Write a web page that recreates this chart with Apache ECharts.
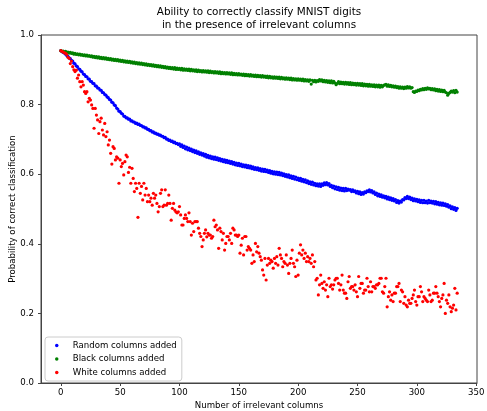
<!DOCTYPE html>
<html>
<head>
<meta charset="utf-8">
<script src="https://cdn.jsdelivr.net/npm/echarts@6/dist/echarts.min.js"></script>
<style>
  html, body { margin: 0; padding: 0; background: #fff; }
  #chart { width: 487px; height: 411px; }
</style>
</head>
<body>
<div id="chart"></div>
<script>
// accuracy per number of added columns (x = 0, 1, 2 ...), in thousandths
const randomAcc = [
  955, 952, 950, 948, 945, 941, 939, 934, 932, 927,
  925, 919, 917, 911, 909, 903, 901, 896, 894, 888,
  886, 881, 880, 874, 873, 867, 866, 861, 860, 854,
  853, 848, 847, 842, 841, 835, 834, 829, 827, 822,
  820, 815, 813, 807, 805, 799, 797, 790, 787, 781,
  780, 775, 773, 767, 766, 762, 762, 758, 758, 753,
  753, 750, 750, 746, 747, 743, 744, 740, 740, 736,
  736, 733, 733, 729, 729, 725, 725, 721, 722, 718,
  718, 715, 715, 712, 712, 709, 709, 705, 706, 701,
  701, 697, 698, 694, 695, 691, 692, 688, 689, 685,
  687, 680, 684, 677, 681, 673, 678, 670, 675, 668,
  672, 665, 669, 662, 667, 660, 664, 657, 661, 655,
  659, 652, 657, 649, 654, 647, 652, 645, 650, 643,
  649, 642, 647, 640, 645, 638, 643, 636, 641, 634,
  640, 633, 638, 631, 636, 629, 634, 627, 632, 625,
  631, 624, 629, 622, 627, 621, 626, 619, 625, 618,
  623, 616, 621, 614, 619, 613, 618, 611, 616, 609,
  615, 608, 614, 607, 612, 605, 610, 603, 608, 601,
  607, 600, 606, 599, 605, 598, 603, 596, 601, 594,
  599, 592, 598, 590, 595, 588, 594, 586, 592, 584,
  589, 582, 588, 580, 585, 578, 584, 576, 581, 573,
  578, 571, 577, 569, 574, 567, 572, 566, 572, 565,
  572, 568, 575, 570, 576, 569, 573, 565, 568, 561,
  566, 558, 564, 556, 562, 554, 560, 553, 559, 552,
  559, 553, 557, 554, 556, 550, 555, 550, 552, 546,
  551, 544, 549, 542, 547, 543, 549, 547, 552, 550,
  555, 549, 553, 546, 549, 542, 546, 538, 543, 536,
  541, 534, 538, 532, 536, 529, 534, 527, 532, 525,
  530, 523, 527, 519, 524, 517, 523, 520, 527, 526,
  533, 530, 536, 530, 534, 527, 531, 524, 529, 523,
  528, 521, 526, 519, 525, 518, 525, 518, 523, 517,
  525, 518, 523, 517, 522, 515, 521, 514, 519, 512,
  518, 511, 517, 510, 515, 508, 513, 505, 509, 501,
  506, 499, 504, 496, 502
];

const blackAcc = [
  955, 953, 954, 951, 953, 950, 951, 948, 950, 947,
  949, 945, 947, 944, 946, 943, 945, 942, 944, 941,
  943, 940, 942, 939, 941, 938, 940, 936, 939, 935,
  938, 934, 937, 933, 936, 932, 935, 931, 934, 930,
  933, 929, 932, 928, 931, 927, 930, 926, 929, 925,
  928, 924, 927, 923, 926, 922, 925, 921, 924, 920,
  923, 919, 922, 918, 921, 917, 920, 916, 919, 915,
  918, 914, 917, 913, 916, 912, 915, 911, 914, 910,
  913, 909, 912, 908, 911, 907, 910, 906, 909, 905,
  908, 904, 907, 903, 906, 902, 906, 901, 905, 901,
  904, 900, 904, 899, 903, 899, 902, 898, 902, 897,
  901, 897, 900, 896, 900, 895, 899, 895, 898, 894,
  898, 894, 897, 893, 897, 892, 896, 892, 895, 891,
  895, 891, 894, 890, 894, 889, 893, 889, 892, 888,
  892, 888, 891, 887, 891, 886, 890, 886, 889, 885,
  889, 885, 888, 884, 888, 883, 887, 883, 886, 882,
  886, 882, 885, 881, 885, 880, 884, 880, 883, 879,
  883, 879, 882, 878, 882, 877, 881, 877, 880, 876,
  880, 876, 879, 875, 879, 874, 878, 874, 877, 873,
  877, 873, 876, 872, 876, 871, 875, 871, 874, 870,
  874, 870, 873, 869, 873, 868, 872, 868, 871, 867,
  871, 859, 870, 866, 870, 865, 869, 867, 872, 868,
  871, 866, 870, 865, 869, 864, 868, 863, 868, 862,
  867, 862, 857, 861, 866, 860, 865, 860, 864, 859,
  864, 859, 863, 858, 863, 857, 862, 857, 861, 856,
  861, 856, 860, 855, 860, 854, 859, 854, 858, 853,
  858, 853, 857, 852, 857, 851, 856, 851, 856, 850,
  855, 851, 855, 857, 858, 853, 857, 852, 855, 851,
  854, 850, 853, 849, 852, 847, 851, 847, 850, 846,
  850, 847, 852, 848, 851, 847, 849, 837, 835, 839,
  838, 842, 840, 844, 842, 846, 843, 847, 844, 848,
  845, 847, 843, 846, 842, 845, 840, 844, 839, 843,
  838, 842, 837, 841, 836, 834, 827, 832, 835, 839,
  836, 840, 834, 841, 836
];

const whiteAcc = [
  955, 953, 951, 949, 947, 944, 936, 933, 918, 925,
  909, 900, 895, 899, 876, 885, 866, 851, 866, 856,
  837, 832, 837, 808, 818, 813, 799, 789, 732, 789,
  770, 756, 717, 751, 761, 727, 713, 746, 708, 722,
  684, 698, 660, 629, 679, 674, 641, 650, 646, 574,
  641, 622, 631, 598, 636, 655, 650, 605, 620, 574,
  617, 588, 550, 574, 559, 476, 574, 545, 565, 526,
  574, 540, 559, 521, 540, 521, 531, 511, 545, 531,
  540, 516, 492, 507, 545, 555, 507, 511, 555, 511,
  516, 540, 516, 468, 502, 516, 497, 492, 489, 492,
  507, 483, 454, 454, 473, 483, 473, 464, 489, 464,
  425, 459, 435, 464, 464, 464, 445, 430, 421, 392,
  411, 430, 440, 420, 430, 425, 425, 416, 421, 468,
  449, 454, 440, 387, 445, 435, 411, 430, 382, 401,
  421, 421, 411, 430, 401, 445, 440, 425, 425, 421,
  425, 373, 396, 416, 368, 421, 421, 382, 392, 387,
  382, 344, 368, 349, 401, 377, 392, 373, 363, 353,
  325, 310, 358, 296, 339, 358, 344, 353, 349, 330,
  358, 344, 363, 339, 387, 368, 358, 334, 349, 344,
  368, 339, 315, 344, 358, 382, 344, 334, 306, 353,
  310, 373, 397, 368, 382, 358, 373, 349, 363, 349,
  358, 344, 368, 334, 349, 296, 301, 253, 282, 310,
  286, 272, 291, 267, 282, 248, 301, 277, 282, 270,
  282, 296, 301, 301, 286, 267, 282, 310, 267, 258,
  258, 243, 291, 306, 272, 277, 277, 267, 282, 262,
  248, 306, 272, 286, 286, 258, 267, 267, 301, 277,
  262, 291, 262, 277, 277, 272, 282, 282, 286, 301,
  301, 262, 258, 277, 301, 219, 248, 262, 238, 253,
  234, 258, 258, 277, 277, 286, 234, 267, 262, 229,
  248, 224, 219, 238, 229, 229, 243, 253, 267, 234,
  224, 248, 248, 277, 262, 234, 248, 243, 238, 234,
  267, 253, 234, 238, 258, 258, 277, 258, 248, 234,
  219, 243, 253, 286, 200, 238, 229, 253, 219, 205,
  215, 224, 272, 210, 258
];

const seriesNames = ['Random columns added', 'Black columns added', 'White columns added'];
const seriesColors = ['#0000ff', '#008000', '#ff0000'];
const xTicks = [0, 50, 100, 150, 200, 250, 300, 350];

const font = 'DejaVu Sans';
const toPoints = arr => arr.map((v, i) => [i, v / 1000]);

const chart = echarts.init(document.getElementById('chart'));
chart.setOption({
  animation: false,
  textStyle: {fontFamily: font},
  graphic: [{
    type: 'text',
    x: 259,
    y: 6.5,
    style: {
      text: 'Ability to correctly classify MNIST digits\nin the presence of irrelevant columns',
      textAlign: 'center',
      textVerticalAlign: 'top',
      font: '10.4px "DejaVu Sans"',
      lineHeight: 12.5,
      fill: '#000',
    },
  }],
  grid: {
    left: 41,
    right: 10,
    top: 35,
    bottom: 28,
    containLabel: false,
    outerBoundsMode: 'none',
    show: true,
    borderColor: '#444',
    borderWidth: 1,
  },
  legend: {
    orient: 'vertical',
    left: 45,
    top: 337,
    data: seriesNames,
    icon: 'circle',
    itemWidth: 22,
    itemHeight: 3.5,
    itemGap: 4.5,
    padding: [4, 5, 4, 10],
    borderColor: '#ccc',
    borderWidth: 1,
    borderRadius: 3,
    textStyle: {fontSize: 8.6, color: '#000', fontFamily: font},
  },
  xAxis: {
    type: 'value',
    min: -16.7,
    max: 350.7,
    name: 'Number of irrelevant columns',
    nameLocation: 'middle',
    nameGap: 18,
    nameMoveOverlap: false,
    nameTextStyle: {fontSize: 8.6, color: '#000'},
    axisLine: {onZero: false, lineStyle: {color: '#444', width: 1}},
    axisTick: {show: true, length: 3, customValues: xTicks, lineStyle: {color: '#444'}},
    axisLabel: {customValues: xTicks, margin: 5, fontSize: 8.6, color: '#000'},
    splitLine: {show: false},
  },
  yAxis: {
    type: 'value',
    min: 0,
    max: 1,
    interval: 0.2,
    name: 'Probability of correct classification',
    nameLocation: 'middle',
    nameGap: 24,
    nameMoveOverlap: false,
    nameTextStyle: {fontSize: 8.6, color: '#000'},
    axisLine: {show: true, onZero: false, lineStyle: {color: '#444', width: 1}},
    axisTick: {show: true, length: 3, lineStyle: {color: '#444'}},
    axisLabel: {margin: 7, fontSize: 8.6, color: '#000', formatter: v => v.toFixed(1)},
    splitLine: {show: false},
  },
  series: [randomAcc, blackAcc, whiteAcc].map((arr, k) => ({
    name: seriesNames[k],
    type: 'scatter',
    symbol: 'circle',
    symbolSize: 3.2,
    itemStyle: {color: seriesColors[k], opacity: 1},
    data: toPoints(arr),
  })),
});
</script>
</body>
</html>
